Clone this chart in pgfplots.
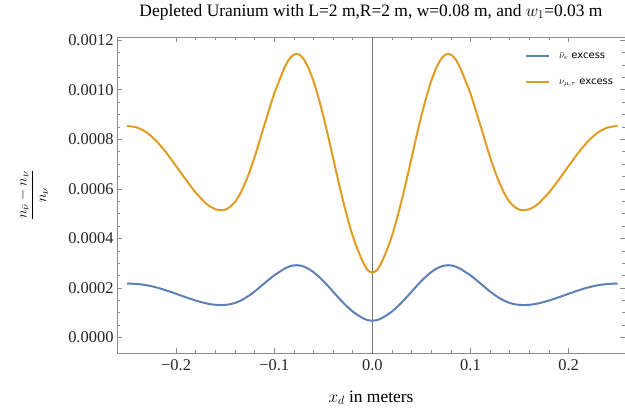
\documentclass[border=0pt]{standalone}
\usepackage{fontspec}
\setmainfont{Liberation Serif}
\newfontfamily\legfont{DejaVu Sans}
\usepackage{pgfplots}
\pgfplotsset{compat=1.18}
\usepackage{pgfplotstable}
\definecolor{mblue}{RGB}{94,129,181}
\definecolor{morange}{RGB}{225,156,36}
\definecolor{framegray}{RGB}{140,140,140}

\pgfplotstableread{
x blue orange
-0.25 0.0002178 0.000854
-0.24 0.0002162 0.000848
-0.23 0.0002111 0.000828
-0.22 0.0002022 0.000793
-0.21 0.0001902 0.000746
-0.20 0.0001765 0.000692
-0.19 0.0001624 0.000637
-0.18 0.0001492 0.000585
-0.17 0.0001385 0.000543
-0.165 0.0001346 0.000528
-0.16 0.0001321 0.000518
-0.155 0.0001311 0.000514
-0.15 0.0001316 0.000516
-0.145 0.0001344 0.000527
-0.14 0.0001395 0.000547
-0.135 0.0001474 0.000578
-0.13 0.0001581 0.000620
-0.125 0.0001709 0.000670
-0.12 0.0001856 0.000728
-0.115 0.0002020 0.000792
-0.11 0.0002188 0.000858
-0.105 0.0002351 0.000922
-0.10 0.0002512 0.000985
-0.095 0.0002639 0.001035
-0.09 0.0002767 0.001085
-0.085 0.0002861 0.001122
-0.08 0.0002912 0.001142
-0.075 0.0002915 0.001143
-0.07 0.0002866 0.001124
-0.065 0.0002772 0.001087
-0.06 0.0002640 0.001035
-0.055 0.0002474 0.000970
-0.05 0.0002282 0.000895
-0.045 0.0002072 0.000812
-0.04 0.0001850 0.000725
-0.035 0.0001630 0.000638
-0.03 0.0001420 0.000555
-0.025 0.0001225 0.000478
-0.02 0.0001050 0.000410
-0.015 0.0000910 0.000355
-0.01 0.0000790 0.000308
-0.005 0.0000705 0.000273
0 0.0000680 0.000262
0.005 0.0000705 0.000273
0.01 0.0000790 0.000308
0.015 0.0000910 0.000355
0.02 0.0001050 0.000410
0.025 0.0001225 0.000478
0.03 0.0001420 0.000555
0.035 0.0001630 0.000638
0.04 0.0001850 0.000725
0.045 0.0002072 0.000812
0.05 0.0002282 0.000895
0.055 0.0002474 0.000970
0.06 0.0002640 0.001035
0.065 0.0002772 0.001087
0.07 0.0002866 0.001124
0.075 0.0002915 0.001143
0.08 0.0002912 0.001142
0.085 0.0002861 0.001122
0.09 0.0002767 0.001085
0.095 0.0002639 0.001035
0.10 0.0002512 0.000985
0.105 0.0002351 0.000922
0.11 0.0002188 0.000858
0.115 0.0002020 0.000792
0.12 0.0001856 0.000728
0.125 0.0001709 0.000670
0.13 0.0001581 0.000620
0.135 0.0001474 0.000578
0.14 0.0001395 0.000547
0.145 0.0001344 0.000527
0.15 0.0001316 0.000516
0.155 0.0001311 0.000514
0.16 0.0001321 0.000518
0.165 0.0001346 0.000528
0.17 0.0001385 0.000543
0.18 0.0001492 0.000585
0.19 0.0001624 0.000637
0.20 0.0001765 0.000692
0.21 0.0001902 0.000746
0.22 0.0002022 0.000793
0.23 0.0002111 0.000828
0.24 0.0002162 0.000848
0.25 0.0002178 0.000854
}\data

\begin{document}
\begin{tikzpicture}
\begin{axis}[
  scale only axis, width=508bp, height=316bp,
  xmin=-0.2602, xmax=0.2575, ymin=-0.0000625, ymax=0.001213,
  axis line style={framegray, line width=0.8bp},
  tick style={framegray, line width=0.6bp},
  major tick length=5bp, minor tick length=3bp,
  tick align=inside,
  xtick pos=both, ytick pos=both,
  xticklabel pos=lower, yticklabel pos=left,
  xtick={-0.2,-0.1,0,0.1,0.2},
  xticklabels={−0.2,−0.1,0.0,0.1,0.2},
  minor x tick num=4,
  ytick={0,0.0002,0.0004,0.0006,0.0008,0.0010,0.0012},
  minor y tick num=3,
  scaled y ticks=false, scaled x ticks=false,
  yticklabel style={/pgf/number format/.cd, fixed, fixed zerofill, precision=4, assume math mode=true},
  xticklabel style={yshift=-3bp},
  ticklabel style={font=\fontsize{16.5}{18}\selectfont, text=black!85},
  every axis title shift/.style={yshift=0pt},
  title={Depleted Uranium with L=2 m,R=2 m, w=0.08 m, and $w_1$=0.03 m},
  title style={font=\fontsize{17.5}{20}\selectfont, at={(axis description cs:0.5,1)}, anchor=base, yshift=15bp},
  xlabel={$x_d$ in meters},
  xlabel style={font=\fontsize{17.5}{20}\selectfont, at={(axis description cs:0.5,0)}, anchor=base, yshift=-49bp},
  ylabel={$\displaystyle\frac{n_{\bar{\nu}}-n_{\nu}}{n_{\nu}}$},
  ylabel style={font=\fontsize{15}{17}\selectfont, at={(axis description cs:-0.165,0.5)}, anchor=center},
  legend style={draw=none, fill=none, at={(axis description cs:0.803,0.958)}, anchor=north west,
    font=\legfont\fontsize{10}{12}\selectfont, row sep=15bp, inner sep=0pt},
  legend cell align=left,
  legend image code/.code={\draw[#1, line width=2bp] (0bp,0bp) -- (23bp,0bp);},
  /tikz/every odd column/.style={column sep=7bp},
]
\addplot[forget plot, color=gray!90!black, line width=1bp] coordinates {(0,-0.0000625) (0,0.001213)};
\addplot[mblue, line width=2bp, smooth, tension=0.4] table[x=x, y=blue] {\data};
\addlegendentry{$\bar{\nu}_e$ excess}
\addplot[morange, line width=2bp, smooth, tension=0.4] table[x=x, y=orange] {\data};
\addlegendentry{$\nu_{\mu,\tau}$ excess}
\coordinate (ll) at (rel axis cs:0,0);
\end{axis}
\pgfresetboundingbox
\path[use as bounding box] ([shift={(-117bp,-55bp)}]ll) rectangle ++(625bp,408bp);
\end{tikzpicture}
\end{document}
